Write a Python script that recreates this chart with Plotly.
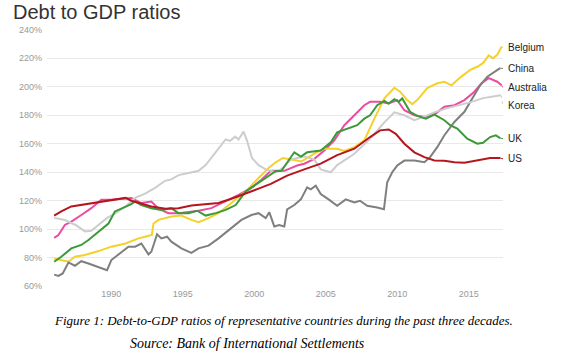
import plotly.graph_objects as go

# ---------------- data ----------------
countries = ["Australia", "Belgium", "China", "Korea", "UK", "US"]
colors = {"Belgium": "#f4d12b", "China": "#7f7f7f", "Australia": "#ec4c9f",
          "Korea": "#cdcdcd", "UK": "#3a9a3a", "US": "#b5161e"}

ko_x = [1986.0, 1986.75, 1987.5, 1988.15, 1988.6, 1989.1, 1989.7, 1990.25, 1991.0, 1991.66,
        1992.36, 1993.06, 1993.76, 1994.2, 1994.7, 1995.4, 1996.1, 1996.6, 1997.0, 1997.5,
        1998.0, 1998.3, 1998.67, 1998.9, 1999.25, 1999.5, 1999.84, 2000.3, 2000.8, 2001.5,
        2002.0, 2002.56, 2003.5, 2004.2, 2004.65, 2005.35, 2005.8, 2007.0, 2008.1, 2009.1,
        2009.8, 2010.5, 2011.2, 2011.9, 2012.6, 2013.5, 2014.4, 2015.1, 2016.0, 2017.0, 2017.25]
ko_y = [108, 106.5, 103, 98.5, 99, 103, 108, 111, 116, 122,
        125, 129, 134, 135, 138, 139.5, 141, 145, 150, 156,
        163, 162, 165, 163, 168.5, 162, 150, 145, 142, 140,
        143, 149, 151, 149, 142, 140, 145, 153, 163.5, 175,
        182, 180, 176.5, 179, 182, 185, 187, 189, 192, 193.6, 194]

us_x = [1986.0, 1986.5, 1987.2, 1988.15, 1989.1, 1990.0, 1991.0, 1991.4, 1991.9, 1992.8,
        1993.8, 1994.7, 1995.6, 1996.6, 1997.5, 1998.4, 1999.4, 2000.3, 2001.16, 2002.3,
        2003.5, 2004.65, 2005.8, 2007.0, 2008.1, 2008.8, 2009.4, 2009.9, 2010.5, 2011.2,
        2011.9, 2012.6, 2013.3, 2014.0, 2014.7, 2015.6, 2016.5, 2017.2]
us_y = [109.5, 112.5, 116, 117.6, 119, 120.7, 122, 120, 118.4, 116,
        114.4, 114.8, 116.7, 117.6, 118.4, 121.4, 125.4, 128.5, 131.8, 137.6,
        142, 146, 152, 156.5, 164.7, 169.4, 170, 167, 160, 154,
        150.6, 148.2, 148, 147, 146.6, 148.2, 150, 150]

be_x = [1986.0, 1986.5, 1987.0, 1987.45, 1988.15, 1989.1, 1990.0, 1991.0, 1991.9, 1992.36,
        1992.83, 1992.95, 1993.3, 1994.2, 1994.9, 1995.6, 1996.1, 1996.8, 1997.5, 1998.4,
        1999.4, 2000.3, 2001.0, 2001.5, 2002.0, 2002.6, 2003.3, 2004.2, 2004.9, 2005.8,
        2006.3, 2007.0, 2007.7, 2008.4, 2009.1, 2009.8, 2010.2, 2010.7, 2011.05, 2011.4,
        2012.1, 2012.8, 2013.3, 2013.8, 2014.4, 2015.1, 2015.6, 2016.0, 2016.4, 2016.7,
        2017.0, 2017.3]
be_y = [79.5, 78.4, 77.2, 80.7, 82, 84.7, 87.8, 90, 93.6, 94.8,
        96, 104, 106.6, 109, 109.6, 106.6, 105, 107.8, 111.3, 118.4,
        126.6, 136, 143, 147, 150, 149, 147.5, 153, 156.5, 156.5,
        155, 157.6, 162.4, 177.6, 191.8, 199.3, 196.5, 190.6, 187.8, 190.6,
        199, 202.4, 203.5, 201, 206.4, 211.8, 214, 216.5, 222, 220,
        222.4, 228]

au_x = [1986.0, 1986.3, 1986.75, 1987.2, 1987.9, 1988.6, 1989.3, 1990.0, 1990.7, 1991.4,
        1992.1, 1992.8, 1993.3, 1994.0, 1994.7, 1995.4, 1996.1, 1997.0, 1998.0, 1998.9,
        1999.8, 2000.5, 2001.16, 2002.1, 2003.0, 2003.5, 2004.2, 2004.9, 2005.6, 2006.3,
        2007.0, 2007.7, 2008.1, 2008.8, 2009.4, 2010.0, 2010.5, 2011.2, 2011.9, 2012.6,
        2013.3, 2014.0, 2014.7, 2015.4, 2015.9, 2016.4, 2017.0, 2017.3]
au_y = [94, 96, 103, 105.4, 110, 114.8, 120.7, 120.7, 121.4, 122,
        118.4, 119.5, 114.4, 111.3, 111.3, 112, 113, 114.8, 119.5, 124.2,
        129, 134.8, 141, 141, 144.7, 146, 149.4, 155.3, 162.4, 173,
        180, 187, 189.4, 189.4, 188.2, 190.6, 183.5, 180, 178.8, 180.5,
        186, 187, 190.6, 196.5, 202.4, 206, 203.5, 201]

uk_x = [1986.0, 1986.5, 1987.2, 1987.9, 1988.4, 1989.1, 1989.8, 1990.25, 1991.0, 1991.4,
        1991.66, 1992.1, 1992.8, 1993.5, 1994.2, 1994.7, 1995.4, 1996.0, 1996.6, 1997.3,
        1998.0, 1998.7, 1999.4, 2000.1, 2000.8, 2001.5, 2001.9, 2002.8, 2003.26, 2003.7,
        2004.65, 2005.35, 2005.8, 2006.5, 2007.2, 2007.7, 2008.1, 2008.6, 2009.1, 2009.4,
        2009.8, 2010.1, 2010.35, 2010.9, 2011.4, 2012.0, 2012.6, 2013.3, 2013.7, 2014.2,
        2014.9, 2015.6, 2016.0, 2016.5, 2016.9, 2017.2]
uk_y = [77.2, 80.7, 86.6, 89, 92.5, 98.4, 104, 112.5, 116, 117.6,
        119.5, 117, 114.8, 113.6, 114.8, 111.3, 111.3, 113, 109.6, 111.3,
        113.6, 117, 126.6, 131.3, 136, 140.7, 141, 154, 151, 154,
        155.3, 161, 168, 170.6, 173, 177.6, 180, 187, 190, 188.2,
        191.3, 189.4, 191.8, 182.4, 179.5, 177.6, 180.5, 176.5, 173, 170.6,
        163.5, 160, 160.7, 164.7, 165.9, 164]

cn_x = [1986.0, 1986.3, 1986.6, 1987.0, 1987.45, 1987.9, 1988.4, 1989.1, 1989.7, 1990.0,
        1990.7, 1991.2, 1991.66, 1992.1, 1992.6, 1992.8, 1993.2, 1993.5, 1993.9, 1994.2,
        1994.9, 1995.6, 1996.1, 1996.8, 1997.5, 1998.4, 1999.1, 1999.8, 2000.3, 2000.8,
        2001.05, 2001.4, 2001.74, 2002.1, 2002.3, 2002.8, 2003.26, 2003.7, 2003.95, 2004.3,
        2004.65, 2005.2, 2005.8, 2006.4, 2007.0, 2007.4, 2007.9, 2008.6, 2009.07, 2009.3,
        2009.65, 2010.0, 2010.5, 2011.2, 2011.9, 2012.3, 2012.8, 2013.3, 2014.0, 2014.7,
        2015.35, 2015.8, 2016.3, 2016.7, 2017.2]
cn_y = [68.2, 67.3, 69, 76.7, 74.4, 77.6, 76, 73.6, 71.3, 78.4,
        84.2, 87.8, 87.8, 90, 82.4, 84.2, 96.5, 93.6, 94.8, 91.3,
        86.6, 83.5, 86.6, 88.5, 93.6, 100.7, 106.6, 110, 111.3, 107.8,
        112, 102, 103, 102, 114, 117, 121, 129.4, 128, 130.6,
        124.7, 121, 116.5, 121, 118.8, 120, 116.5, 115.3, 114, 133,
        140, 144.7, 148.2, 148.2, 147, 150.6, 157.6, 166, 175.3, 182.4,
        193, 201, 207, 209.4, 213]

series = {"Australia": (au_x, au_y), "Belgium": (be_x, be_y), "China": (cn_x, cn_y),
          "Korea": (ko_x, ko_y), "UK": (uk_x, uk_y), "US": (us_x, us_y)}

# direct-label vertical positions (in % units)
label_y = {"Belgium": 227.6, "China": 212.8, "Australia": 199.4,
           "Korea": 186.8, "UK": 163.5, "US": 149.4}

y_ticks = [60, 80, 100, 120, 140, 160, 180, 200, 220, 240]
y_tick_text = ["60%", "80%", "100%", "120%", "140%", "160%", "180%", "200%", "220%", "240%"]
x_ticks = [1990, 1995, 2000, 2005, 2010, 2015]
x_range = [1985.5, 2017.4]

title = "Debt to GDP ratios"
caption1 = "Figure 1: Debt-to-GDP ratios of representative countries during the past three decades."
caption2 = "Source: Bank of International Settlements"

# ---------------- figure ----------------
fig = go.Figure()
for c in countries:
    xs, ys = series[c]
    fig.add_trace(go.Scatter(x=xs, y=ys, mode="lines", name=c,
                             line=dict(color=colors[c], width=2),
                             hoverinfo="skip", showlegend=False))

shapes = []
annotations = []
for c in countries:
    xs, ys = series[c]
    shapes.append(dict(type="line", xref="x", yref="y",
                       x0=xs[-1], y0=ys[-1], x1=x_range[1], y1=label_y[c],
                       line=dict(color=colors[c], width=1, dash="dot")))
    annotations.append(dict(xref="paper", yref="y", x=1, y=label_y[c], xshift=3,
                            xanchor="left", yanchor="middle", showarrow=False,
                            text=c, font=dict(family="Liberation Sans, Arial", size=10, color="#222222")))

annotations.append(dict(xref="paper", yref="paper", x=(283 - 47) / 456, y=-(320 - 287) / 257.5,
                        xanchor="center", yanchor="middle", showarrow=False, text=caption1,
                        font=dict(family="Liberation Serif, Times New Roman", size=13,
                                  color="#000000", style="italic")))
annotations.append(dict(xref="paper", yref="paper", x=(247 - 47) / 456, y=-(343 - 287) / 257.5,
                        xanchor="center", yanchor="middle", showarrow=False, text=caption2,
                        font=dict(family="Liberation Serif, Times New Roman", size=14,
                                  color="#000000", style="italic")))

fig.update_layout(
    width=568, height=357,
    margin=dict(l=47, r=65, t=29, b=70, pad=0),
    paper_bgcolor="white", plot_bgcolor="white",
    title=dict(text=title, x=13 / 568, xanchor="left", y=1 - 12 / 357, yanchor="middle",
               font=dict(family="Liberation Sans, Arial", size=20, color="#333333")),
    xaxis=dict(range=x_range, tickvals=x_ticks, showgrid=False, zeroline=False,
               showline=False, ticks="", tickfont=dict(family="Liberation Sans, Arial", size=9, color="#999999"),
               ticklabelstandoff=0),
    yaxis=dict(range=[59.5, 240.5], tickvals=y_ticks, ticktext=y_tick_text, showgrid=True,
               gridcolor="#e9e9e9", gridwidth=1, zeroline=False, showline=False, ticks="",
               tickfont=dict(family="Liberation Sans, Arial", size=9, color="#999999"),
               ticklabelstandoff=4),
    shapes=shapes, annotations=annotations,
)

fig.write_html("out.html", config={"displayModeBar": False},
               post_script="document.body.style.margin='0';document.body.style.padding='0';document.body.style.overflow='hidden';")
